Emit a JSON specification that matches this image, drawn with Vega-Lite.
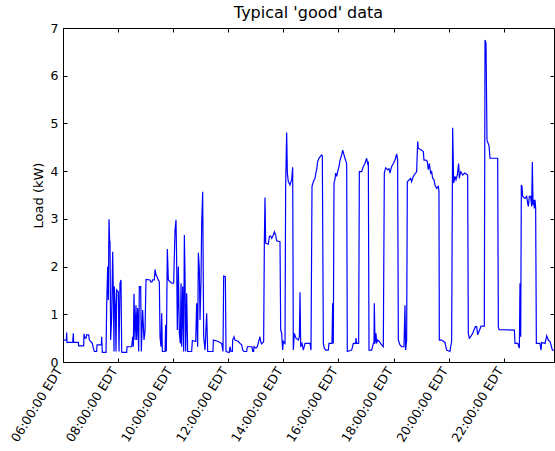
{
  "$schema": "https://vega.github.io/schema/vega-lite/v6.json",
  "width": 491,
  "height": 334,
  "autosize": {"type": "none"},
  "padding": {"left": 63, "top": 28, "right": 1, "bottom": 89},
  "background": "white",
  "title": {"text": "Typical 'good' data", "font": "DejaVu Sans", "fontSize": 16, "fontWeight": "normal", "color": "black", "anchor": "middle", "offset": 1},
  "config": {
    "view": {"stroke": "black", "strokeWidth": 1},
    "axis": {
      "grid": false,
      "domain": false,
      "tickColor": "black",
      "tickSize": -4,
      "tickWidth": 1,
      "labelColor": "black",
      "labelFont": "DejaVu Sans",
      "labelFontSize": 12.5,
      "titleColor": "black",
      "titleFont": "DejaVu Sans",
      "titleFontSize": 13,
      "titleFontWeight": "normal",
      "labelOverlap": false,
      "labelFlush": false,
      "labelBound": false
    }
  },
  "data": {"values": [
    {"t": "2011-07-12T06:00:00", "kw": 0.46},
    {"t": "2011-07-12T06:07:18", "kw": 0.46},
    {"t": "2011-07-12T06:08:00", "kw": 0.62},
    {"t": "2011-07-12T06:08:42", "kw": 0.41},
    {"t": "2011-07-12T06:21:06", "kw": 0.41},
    {"t": "2011-07-12T06:22:30", "kw": 0.60},
    {"t": "2011-07-12T06:23:12", "kw": 0.41},
    {"t": "2011-07-12T06:33:24", "kw": 0.41},
    {"t": "2011-07-12T06:34:06", "kw": 0.34},
    {"t": "2011-07-12T06:45:00", "kw": 0.34},
    {"t": "2011-07-12T06:45:42", "kw": 0.59},
    {"t": "2011-07-12T06:47:54", "kw": 0.50},
    {"t": "2011-07-12T06:50:06", "kw": 0.50},
    {"t": "2011-07-12T06:51:30", "kw": 0.57},
    {"t": "2011-07-12T06:55:54", "kw": 0.57},
    {"t": "2011-07-12T06:57:24", "kw": 0.46},
    {"t": "2011-07-12T07:00:18", "kw": 0.43},
    {"t": "2011-07-12T07:03:54", "kw": 0.39},
    {"t": "2011-07-12T07:06:06", "kw": 0.29},
    {"t": "2011-07-12T07:08:12", "kw": 0.22},
    {"t": "2011-07-12T07:13:18", "kw": 0.22},
    {"t": "2011-07-12T07:14:06", "kw": 0.36},
    {"t": "2011-07-12T07:23:30", "kw": 0.36},
    {"t": "2011-07-12T07:24:12", "kw": 0.53},
    {"t": "2011-07-12T07:25:42", "kw": 0.20},
    {"t": "2011-07-12T07:33:42", "kw": 0.20},
    {"t": "2011-07-12T07:35:06", "kw": 1.16},
    {"t": "2011-07-12T07:37:18", "kw": 2.00},
    {"t": "2011-07-12T07:38:42", "kw": 1.30},
    {"t": "2011-07-12T07:40:12", "kw": 2.99},
    {"t": "2011-07-12T07:41:36", "kw": 2.52},
    {"t": "2011-07-12T07:42:24", "kw": 2.52},
    {"t": "2011-07-12T07:43:48", "kw": 0.46},
    {"t": "2011-07-12T07:46:00", "kw": 0.95},
    {"t": "2011-07-12T07:48:12", "kw": 2.31},
    {"t": "2011-07-12T07:49:36", "kw": 1.44},
    {"t": "2011-07-12T07:51:06", "kw": 0.22},
    {"t": "2011-07-12T07:51:48", "kw": 1.58},
    {"t": "2011-07-12T07:54:00", "kw": 1.16},
    {"t": "2011-07-12T07:55:24", "kw": 0.22},
    {"t": "2011-07-12T07:56:54", "kw": 1.51},
    {"t": "2011-07-12T08:00:30", "kw": 1.47},
    {"t": "2011-07-12T08:02:00", "kw": 0.22},
    {"t": "2011-07-12T08:04:06", "kw": 1.65},
    {"t": "2011-07-12T08:06:18", "kw": 1.72},
    {"t": "2011-07-12T08:07:48", "kw": 0.22},
    {"t": "2011-07-12T08:08:30", "kw": 0.20},
    {"t": "2011-07-12T08:18:42", "kw": 0.20},
    {"t": "2011-07-12T08:19:24", "kw": 0.32},
    {"t": "2011-07-12T08:29:36", "kw": 0.32},
    {"t": "2011-07-12T08:31:42", "kw": 0.53},
    {"t": "2011-07-12T08:33:12", "kw": 0.32},
    {"t": "2011-07-12T08:34:36", "kw": 1.43},
    {"t": "2011-07-12T08:36:48", "kw": 0.46},
    {"t": "2011-07-12T08:39:00", "kw": 1.19},
    {"t": "2011-07-12T08:40:30", "kw": 0.46},
    {"t": "2011-07-12T08:42:36", "kw": 1.13},
    {"t": "2011-07-12T08:44:48", "kw": 0.22},
    {"t": "2011-07-12T08:46:18", "kw": 1.58},
    {"t": "2011-07-12T08:49:12", "kw": 1.58},
    {"t": "2011-07-12T08:50:36", "kw": 0.22},
    {"t": "2011-07-12T08:53:30", "kw": 1.09},
    {"t": "2011-07-12T08:56:24", "kw": 0.46},
    {"t": "2011-07-12T08:58:36", "kw": 0.64},
    {"t": "2011-07-12T09:00:48", "kw": 1.73},
    {"t": "2011-07-12T09:09:30", "kw": 1.72},
    {"t": "2011-07-12T09:10:54", "kw": 1.68},
    {"t": "2011-07-12T09:13:48", "kw": 1.68},
    {"t": "2011-07-12T09:15:18", "kw": 1.72},
    {"t": "2011-07-12T09:18:54", "kw": 1.72},
    {"t": "2011-07-12T09:20:24", "kw": 1.94},
    {"t": "2011-07-12T09:22:36", "kw": 1.82},
    {"t": "2011-07-12T09:24:42", "kw": 1.79},
    {"t": "2011-07-12T09:27:36", "kw": 1.72},
    {"t": "2011-07-12T09:29:48", "kw": 1.68},
    {"t": "2011-07-12T09:31:18", "kw": 0.53},
    {"t": "2011-07-12T09:33:24", "kw": 0.32},
    {"t": "2011-07-12T09:34:54", "kw": 1.02},
    {"t": "2011-07-12T09:36:24", "kw": 0.22},
    {"t": "2011-07-12T09:42:12", "kw": 0.22},
    {"t": "2011-07-12T09:43:36", "kw": 0.78},
    {"t": "2011-07-12T09:45:06", "kw": 0.22},
    {"t": "2011-07-12T09:47:12", "kw": 2.37},
    {"t": "2011-07-12T09:49:24", "kw": 1.72},
    {"t": "2011-07-12T09:56:42", "kw": 1.65},
    {"t": "2011-07-12T10:01:00", "kw": 1.65},
    {"t": "2011-07-12T10:03:54", "kw": 2.75},
    {"t": "2011-07-12T10:06:06", "kw": 2.98},
    {"t": "2011-07-12T10:07:36", "kw": 2.07},
    {"t": "2011-07-12T10:09:00", "kw": 0.67},
    {"t": "2011-07-12T10:11:12", "kw": 2.00},
    {"t": "2011-07-12T10:13:24", "kw": 0.60},
    {"t": "2011-07-12T10:15:36", "kw": 0.39},
    {"t": "2011-07-12T10:17:00", "kw": 1.65},
    {"t": "2011-07-12T10:18:30", "kw": 0.32},
    {"t": "2011-07-12T10:20:36", "kw": 1.58},
    {"t": "2011-07-12T10:22:48", "kw": 0.22},
    {"t": "2011-07-12T10:24:18", "kw": 2.66},
    {"t": "2011-07-12T10:25:42", "kw": 1.86},
    {"t": "2011-07-12T10:27:12", "kw": 0.22},
    {"t": "2011-07-12T10:29:24", "kw": 1.44},
    {"t": "2011-07-12T10:31:30", "kw": 0.22},
    {"t": "2011-07-12T10:40:12", "kw": 0.22},
    {"t": "2011-07-12T10:41:42", "kw": 0.45},
    {"t": "2011-07-12T10:49:00", "kw": 0.43},
    {"t": "2011-07-12T10:51:06", "kw": 1.23},
    {"t": "2011-07-12T10:53:18", "kw": 0.32},
    {"t": "2011-07-12T10:54:48", "kw": 2.29},
    {"t": "2011-07-12T10:56:54", "kw": 1.96},
    {"t": "2011-07-12T10:58:24", "kw": 0.88},
    {"t": "2011-07-12T11:00:36", "kw": 1.72},
    {"t": "2011-07-12T11:02:00", "kw": 2.91},
    {"t": "2011-07-12T11:04:12", "kw": 3.57},
    {"t": "2011-07-12T11:06:24", "kw": 0.53},
    {"t": "2011-07-12T11:09:18", "kw": 0.25},
    {"t": "2011-07-12T11:12:54", "kw": 1.02},
    {"t": "2011-07-12T11:15:06", "kw": 0.22},
    {"t": "2011-07-12T11:26:42", "kw": 0.22},
    {"t": "2011-07-12T11:27:24", "kw": 0.46},
    {"t": "2011-07-12T11:38:18", "kw": 0.43},
    {"t": "2011-07-12T11:45:36", "kw": 0.39},
    {"t": "2011-07-12T11:48:30", "kw": 0.22},
    {"t": "2011-07-12T11:49:54", "kw": 1.80},
    {"t": "2011-07-12T11:53:36", "kw": 1.79},
    {"t": "2011-07-12T11:55:00", "kw": 0.22},
    {"t": "2011-07-12T12:02:00", "kw": 0.20},
    {"t": "2011-07-12T12:03:42", "kw": 0.32},
    {"t": "2011-07-12T12:05:54", "kw": 0.22},
    {"t": "2011-07-12T12:08:48", "kw": 0.22},
    {"t": "2011-07-12T12:09:30", "kw": 0.46},
    {"t": "2011-07-12T12:12:24", "kw": 0.53},
    {"t": "2011-07-12T12:14:36", "kw": 0.46},
    {"t": "2011-07-12T12:21:54", "kw": 0.43},
    {"t": "2011-07-12T12:25:30", "kw": 0.39},
    {"t": "2011-07-12T12:29:06", "kw": 0.36},
    {"t": "2011-07-12T12:31:18", "kw": 0.25},
    {"t": "2011-07-12T12:34:12", "kw": 0.22},
    {"t": "2011-07-12T12:40:00", "kw": 0.22},
    {"t": "2011-07-12T12:41:30", "kw": 0.32},
    {"t": "2011-07-12T12:51:36", "kw": 0.32},
    {"t": "2011-07-12T12:53:06", "kw": 0.22},
    {"t": "2011-07-12T12:55:12", "kw": 0.22},
    {"t": "2011-07-12T12:56:00", "kw": 0.32},
    {"t": "2011-07-12T13:00:18", "kw": 0.29},
    {"t": "2011-07-12T13:03:12", "kw": 0.32},
    {"t": "2011-07-12T13:06:54", "kw": 0.46},
    {"t": "2011-07-12T13:09:00", "kw": 0.53},
    {"t": "2011-07-12T13:10:30", "kw": 0.43},
    {"t": "2011-07-12T13:12:42", "kw": 0.38},
    {"t": "2011-07-12T13:17:00", "kw": 0.43},
    {"t": "2011-07-12T13:18:30", "kw": 2.49},
    {"t": "2011-07-12T13:19:54", "kw": 3.45},
    {"t": "2011-07-12T13:21:24", "kw": 2.49},
    {"t": "2011-07-12T13:27:12", "kw": 2.47},
    {"t": "2011-07-12T13:29:24", "kw": 2.63},
    {"t": "2011-07-12T13:32:18", "kw": 2.64},
    {"t": "2011-07-12T13:34:30", "kw": 2.59},
    {"t": "2011-07-12T13:38:06", "kw": 2.66},
    {"t": "2011-07-12T13:40:18", "kw": 2.73},
    {"t": "2011-07-12T13:43:12", "kw": 2.66},
    {"t": "2011-07-12T13:45:18", "kw": 2.54},
    {"t": "2011-07-12T13:52:36", "kw": 2.52},
    {"t": "2011-07-12T13:54:06", "kw": 0.67},
    {"t": "2011-07-12T13:56:12", "kw": 0.60},
    {"t": "2011-07-12T13:58:24", "kw": 0.25},
    {"t": "2011-07-12T13:59:54", "kw": 0.43},
    {"t": "2011-07-12T14:03:30", "kw": 0.39},
    {"t": "2011-07-12T14:04:54", "kw": 3.68},
    {"t": "2011-07-12T14:07:06", "kw": 4.81},
    {"t": "2011-07-12T14:08:36", "kw": 3.96},
    {"t": "2011-07-12T14:10:42", "kw": 3.78},
    {"t": "2011-07-12T14:14:24", "kw": 3.71},
    {"t": "2011-07-12T14:18:00", "kw": 3.82},
    {"t": "2011-07-12T14:20:12", "kw": 4.08},
    {"t": "2011-07-12T14:21:36", "kw": 0.25},
    {"t": "2011-07-12T14:23:48", "kw": 0.60},
    {"t": "2011-07-12T14:27:24", "kw": 0.50},
    {"t": "2011-07-12T14:32:30", "kw": 0.46},
    {"t": "2011-07-12T14:34:42", "kw": 0.53},
    {"t": "2011-07-12T14:36:12", "kw": 1.46},
    {"t": "2011-07-12T14:37:36", "kw": 0.32},
    {"t": "2011-07-12T14:40:30", "kw": 0.39},
    {"t": "2011-07-12T14:43:24", "kw": 0.25},
    {"t": "2011-07-12T14:47:06", "kw": 0.39},
    {"t": "2011-07-12T14:58:00", "kw": 0.39},
    {"t": "2011-07-12T15:00:06", "kw": 0.25},
    {"t": "2011-07-12T15:02:18", "kw": 3.68},
    {"t": "2011-07-12T15:05:12", "kw": 3.78},
    {"t": "2011-07-12T15:08:48", "kw": 3.85},
    {"t": "2011-07-12T15:10:30", "kw": 3.95},
    {"t": "2011-07-12T15:12:24", "kw": 4.03},
    {"t": "2011-07-12T15:14:36", "kw": 4.20},
    {"t": "2011-07-12T15:17:30", "kw": 4.27},
    {"t": "2011-07-12T15:19:42", "kw": 4.30},
    {"t": "2011-07-12T15:23:18", "kw": 4.34},
    {"t": "2011-07-12T15:24:48", "kw": 4.32},
    {"t": "2011-07-12T15:27:00", "kw": 0.39},
    {"t": "2011-07-12T15:29:06", "kw": 0.29},
    {"t": "2011-07-12T15:32:00", "kw": 0.25},
    {"t": "2011-07-12T15:37:48", "kw": 0.25},
    {"t": "2011-07-12T15:39:18", "kw": 0.39},
    {"t": "2011-07-12T15:45:48", "kw": 0.39},
    {"t": "2011-07-12T15:47:18", "kw": 1.23},
    {"t": "2011-07-12T15:48:42", "kw": 0.39},
    {"t": "2011-07-12T15:50:12", "kw": 3.76},
    {"t": "2011-07-12T15:52:24", "kw": 3.82},
    {"t": "2011-07-12T15:53:48", "kw": 3.96},
    {"t": "2011-07-12T15:56:00", "kw": 3.89},
    {"t": "2011-07-12T15:58:12", "kw": 3.99},
    {"t": "2011-07-12T16:01:06", "kw": 4.10},
    {"t": "2011-07-12T16:03:18", "kw": 4.23},
    {"t": "2011-07-12T16:06:54", "kw": 4.34},
    {"t": "2011-07-12T16:09:06", "kw": 4.44},
    {"t": "2011-07-12T16:12:00", "kw": 4.34},
    {"t": "2011-07-12T16:14:06", "kw": 4.27},
    {"t": "2011-07-12T16:16:18", "kw": 4.20},
    {"t": "2011-07-12T16:17:48", "kw": 4.16},
    {"t": "2011-07-12T16:19:12", "kw": 0.22},
    {"t": "2011-07-12T16:28:42", "kw": 0.25},
    {"t": "2011-07-12T16:32:18", "kw": 0.39},
    {"t": "2011-07-12T16:37:24", "kw": 0.39},
    {"t": "2011-07-12T16:38:06", "kw": 0.50},
    {"t": "2011-07-12T16:39:36", "kw": 0.39},
    {"t": "2011-07-12T16:43:54", "kw": 0.39},
    {"t": "2011-07-12T16:45:24", "kw": 3.99},
    {"t": "2011-07-12T16:50:24", "kw": 3.99},
    {"t": "2011-07-12T16:54:06", "kw": 4.10},
    {"t": "2011-07-12T16:57:42", "kw": 4.16},
    {"t": "2011-07-12T17:01:18", "kw": 4.27},
    {"t": "2011-07-12T17:03:30", "kw": 4.16},
    {"t": "2011-07-12T17:05:00", "kw": 4.20},
    {"t": "2011-07-12T17:06:24", "kw": 0.25},
    {"t": "2011-07-12T17:12:12", "kw": 0.25},
    {"t": "2011-07-12T17:15:54", "kw": 0.39},
    {"t": "2011-07-12T17:17:18", "kw": 0.39},
    {"t": "2011-07-12T17:18:00", "kw": 1.23},
    {"t": "2011-07-12T17:19:30", "kw": 0.39},
    {"t": "2011-07-12T17:21:42", "kw": 0.60},
    {"t": "2011-07-12T17:23:06", "kw": 0.39},
    {"t": "2011-07-12T17:25:18", "kw": 0.46},
    {"t": "2011-07-12T17:28:54", "kw": 0.43},
    {"t": "2011-07-12T17:34:00", "kw": 0.36},
    {"t": "2011-07-12T17:37:36", "kw": 0.32},
    {"t": "2011-07-12T17:39:48", "kw": 3.96},
    {"t": "2011-07-12T17:42:42", "kw": 4.07},
    {"t": "2011-07-12T17:47:06", "kw": 4.03},
    {"t": "2011-07-12T17:50:00", "kw": 4.05},
    {"t": "2011-07-12T17:52:12", "kw": 3.96},
    {"t": "2011-07-12T17:55:48", "kw": 4.10},
    {"t": "2011-07-12T17:59:24", "kw": 4.16},
    {"t": "2011-07-12T18:03:00", "kw": 4.23},
    {"t": "2011-07-12T18:06:42", "kw": 4.36},
    {"t": "2011-07-12T18:08:48", "kw": 4.23},
    {"t": "2011-07-12T18:10:18", "kw": 0.46},
    {"t": "2011-07-12T18:13:54", "kw": 0.36},
    {"t": "2011-07-12T18:17:30", "kw": 0.32},
    {"t": "2011-07-12T18:22:36", "kw": 0.32},
    {"t": "2011-07-12T18:24:48", "kw": 1.19},
    {"t": "2011-07-12T18:26:12", "kw": 0.25},
    {"t": "2011-07-12T18:28:24", "kw": 0.46},
    {"t": "2011-07-12T18:29:54", "kw": 3.78},
    {"t": "2011-07-12T18:34:12", "kw": 3.82},
    {"t": "2011-07-12T18:37:06", "kw": 3.85},
    {"t": "2011-07-12T18:39:18", "kw": 3.78},
    {"t": "2011-07-12T18:41:30", "kw": 3.85},
    {"t": "2011-07-12T18:44:24", "kw": 3.92},
    {"t": "2011-07-12T18:48:00", "kw": 3.96},
    {"t": "2011-07-12T18:50:12", "kw": 3.99},
    {"t": "2011-07-12T18:52:24", "kw": 4.62},
    {"t": "2011-07-12T18:53:48", "kw": 4.48},
    {"t": "2011-07-12T19:01:06", "kw": 4.44},
    {"t": "2011-07-12T19:04:42", "kw": 4.41},
    {"t": "2011-07-12T19:06:12", "kw": 4.23},
    {"t": "2011-07-12T19:10:30", "kw": 4.23},
    {"t": "2011-07-12T19:13:24", "kw": 4.20},
    {"t": "2011-07-12T19:15:36", "kw": 4.03},
    {"t": "2011-07-12T19:17:48", "kw": 4.16},
    {"t": "2011-07-12T19:20:42", "kw": 3.96},
    {"t": "2011-07-12T19:22:54", "kw": 3.99},
    {"t": "2011-07-12T19:25:00", "kw": 3.85},
    {"t": "2011-07-12T19:28:00", "kw": 3.82},
    {"t": "2011-07-12T19:30:06", "kw": 3.71},
    {"t": "2011-07-12T19:33:48", "kw": 3.64},
    {"t": "2011-07-12T19:37:24", "kw": 3.68},
    {"t": "2011-07-12T19:38:48", "kw": 3.57},
    {"t": "2011-07-12T19:39:36", "kw": 0.46},
    {"t": "2011-07-12T19:44:42", "kw": 0.46},
    {"t": "2011-07-12T19:51:54", "kw": 0.41},
    {"t": "2011-07-12T19:55:30", "kw": 0.25},
    {"t": "2011-07-12T20:02:48", "kw": 0.22},
    {"t": "2011-07-12T20:04:18", "kw": 0.32},
    {"t": "2011-07-12T20:06:24", "kw": 0.43},
    {"t": "2011-07-12T20:08:36", "kw": 4.91},
    {"t": "2011-07-12T20:10:48", "kw": 3.75},
    {"t": "2011-07-12T20:13:42", "kw": 3.89},
    {"t": "2011-07-12T20:15:54", "kw": 3.82},
    {"t": "2011-07-12T20:18:48", "kw": 3.92},
    {"t": "2011-07-12T20:21:42", "kw": 4.16},
    {"t": "2011-07-12T20:23:06", "kw": 3.85},
    {"t": "2011-07-12T20:26:00", "kw": 3.99},
    {"t": "2011-07-12T20:28:12", "kw": 3.96},
    {"t": "2011-07-12T20:30:24", "kw": 3.92},
    {"t": "2011-07-12T20:35:30", "kw": 3.96},
    {"t": "2011-07-12T20:41:18", "kw": 3.92},
    {"t": "2011-07-12T20:42:42", "kw": 0.60},
    {"t": "2011-07-12T20:44:54", "kw": 0.50},
    {"t": "2011-07-12T20:47:48", "kw": 0.53},
    {"t": "2011-07-12T20:52:12", "kw": 0.60},
    {"t": "2011-07-12T20:55:06", "kw": 0.67},
    {"t": "2011-07-12T20:58:00", "kw": 0.74},
    {"t": "2011-07-12T21:00:54", "kw": 0.74},
    {"t": "2011-07-12T21:03:06", "kw": 0.57},
    {"t": "2011-07-12T21:06:00", "kw": 0.64},
    {"t": "2011-07-12T21:10:24", "kw": 0.75},
    {"t": "2011-07-12T21:17:36", "kw": 0.75},
    {"t": "2011-07-12T21:19:06", "kw": 6.75},
    {"t": "2011-07-12T21:21:18", "kw": 6.68},
    {"t": "2011-07-12T21:23:24", "kw": 4.65},
    {"t": "2011-07-12T21:27:48", "kw": 4.53},
    {"t": "2011-07-12T21:30:00", "kw": 4.27},
    {"t": "2011-07-12T21:46:42", "kw": 4.27},
    {"t": "2011-07-12T21:48:06", "kw": 0.74},
    {"t": "2011-07-12T21:49:36", "kw": 0.68},
    {"t": "2011-07-12T22:23:00", "kw": 0.67},
    {"t": "2011-07-12T22:24:24", "kw": 0.39},
    {"t": "2011-07-12T22:30:12", "kw": 0.39},
    {"t": "2011-07-12T22:33:54", "kw": 0.29},
    {"t": "2011-07-12T22:35:18", "kw": 1.65},
    {"t": "2011-07-12T22:36:48", "kw": 0.53},
    {"t": "2011-07-12T22:38:12", "kw": 3.71},
    {"t": "2011-07-12T22:39:42", "kw": 3.68},
    {"t": "2011-07-12T22:41:06", "kw": 3.47},
    {"t": "2011-07-12T22:46:12", "kw": 3.43},
    {"t": "2011-07-12T22:49:48", "kw": 3.47},
    {"t": "2011-07-12T22:52:00", "kw": 3.33},
    {"t": "2011-07-12T22:53:30", "kw": 3.26},
    {"t": "2011-07-12T22:55:36", "kw": 3.47},
    {"t": "2011-07-12T22:58:30", "kw": 3.47},
    {"t": "2011-07-12T23:00:42", "kw": 3.26},
    {"t": "2011-07-12T23:02:12", "kw": 4.19},
    {"t": "2011-07-12T23:03:36", "kw": 3.29},
    {"t": "2011-07-12T23:05:06", "kw": 3.40},
    {"t": "2011-07-12T23:06:30", "kw": 3.22},
    {"t": "2011-07-12T23:08:00", "kw": 3.40},
    {"t": "2011-07-12T23:09:24", "kw": 3.22},
    {"t": "2011-07-12T23:10:54", "kw": 0.39},
    {"t": "2011-07-12T23:18:54", "kw": 0.39},
    {"t": "2011-07-12T23:21:06", "kw": 0.25},
    {"t": "2011-07-12T23:22:30", "kw": 0.41},
    {"t": "2011-07-12T23:29:48", "kw": 0.39},
    {"t": "2011-07-12T23:33:24", "kw": 0.55},
    {"t": "2011-07-12T23:37:00", "kw": 0.46},
    {"t": "2011-07-12T23:40:42", "kw": 0.43},
    {"t": "2011-07-12T23:42:48", "kw": 0.36},
    {"t": "2011-07-12T23:45:42", "kw": 0.25},
    {"t": "2011-07-12T23:49:00", "kw": 0.25}
  ]},
  "layer": [
    {
      "mark": {"type": "line", "color": "#0000ff", "strokeWidth": 1.2, "interpolate": "linear"},
      "encoding": {
        "x": {
          "field": "t", "type": "temporal",
          "scale": {"domain": [{"year": 2011, "month": 7, "date": 12, "hours": 6}, {"year": 2011, "month": 7, "date": 12, "hours": 23, "minutes": 49, "seconds": 20}], "nice": false},
          "axis": {
            "orient": "bottom",
            "title": null,
            "format": "%H:%M:%S EDT",
            "values": [
              {"year": 2011, "month": 7, "date": 12, "hours": 6},
              {"year": 2011, "month": 7, "date": 12, "hours": 8},
              {"year": 2011, "month": 7, "date": 12, "hours": 10},
              {"year": 2011, "month": 7, "date": 12, "hours": 12},
              {"year": 2011, "month": 7, "date": 12, "hours": 14},
              {"year": 2011, "month": 7, "date": 12, "hours": 16},
              {"year": 2011, "month": 7, "date": 12, "hours": 18},
              {"year": 2011, "month": 7, "date": 12, "hours": 20},
              {"year": 2011, "month": 7, "date": 12, "hours": 22}
            ],
            "labelAngle": -58,
            "labelAlign": "right",
            "labelBaseline": "middle",
            "labelPadding": 10,
            "labelOffset": -4
          }
        },
        "y": {
          "field": "kw", "type": "quantitative",
          "scale": {"domain": [0, 7], "nice": false},
          "axis": {
            "orient": "left",
            "title": "Load (kW)",
            "values": [0, 1, 2, 3, 4, 5, 6, 7],
            "labelPadding": 9,
            "titlePadding": 5
          }
        }
      }
    },
    {
      "mark": {"type": "line", "strokeOpacity": 0},
      "encoding": {
        "x": {
          "field": "t", "type": "temporal",
          "axis": {
            "orient": "top",
            "title": null,
            "labels": false,
            "values": [
              {"year": 2011, "month": 7, "date": 12, "hours": 6},
              {"year": 2011, "month": 7, "date": 12, "hours": 8},
              {"year": 2011, "month": 7, "date": 12, "hours": 10},
              {"year": 2011, "month": 7, "date": 12, "hours": 12},
              {"year": 2011, "month": 7, "date": 12, "hours": 14},
              {"year": 2011, "month": 7, "date": 12, "hours": 16},
              {"year": 2011, "month": 7, "date": 12, "hours": 18},
              {"year": 2011, "month": 7, "date": 12, "hours": 20},
              {"year": 2011, "month": 7, "date": 12, "hours": 22}
            ]
          }
        },
        "y": {
          "field": "kw", "type": "quantitative",
          "axis": {
            "orient": "right",
            "title": null,
            "labels": false,
            "values": [0, 1, 2, 3, 4, 5, 6, 7]
          }
        }
      }
    }
  ],
  "resolve": {"axis": {"x": "independent", "y": "independent"}}
}
